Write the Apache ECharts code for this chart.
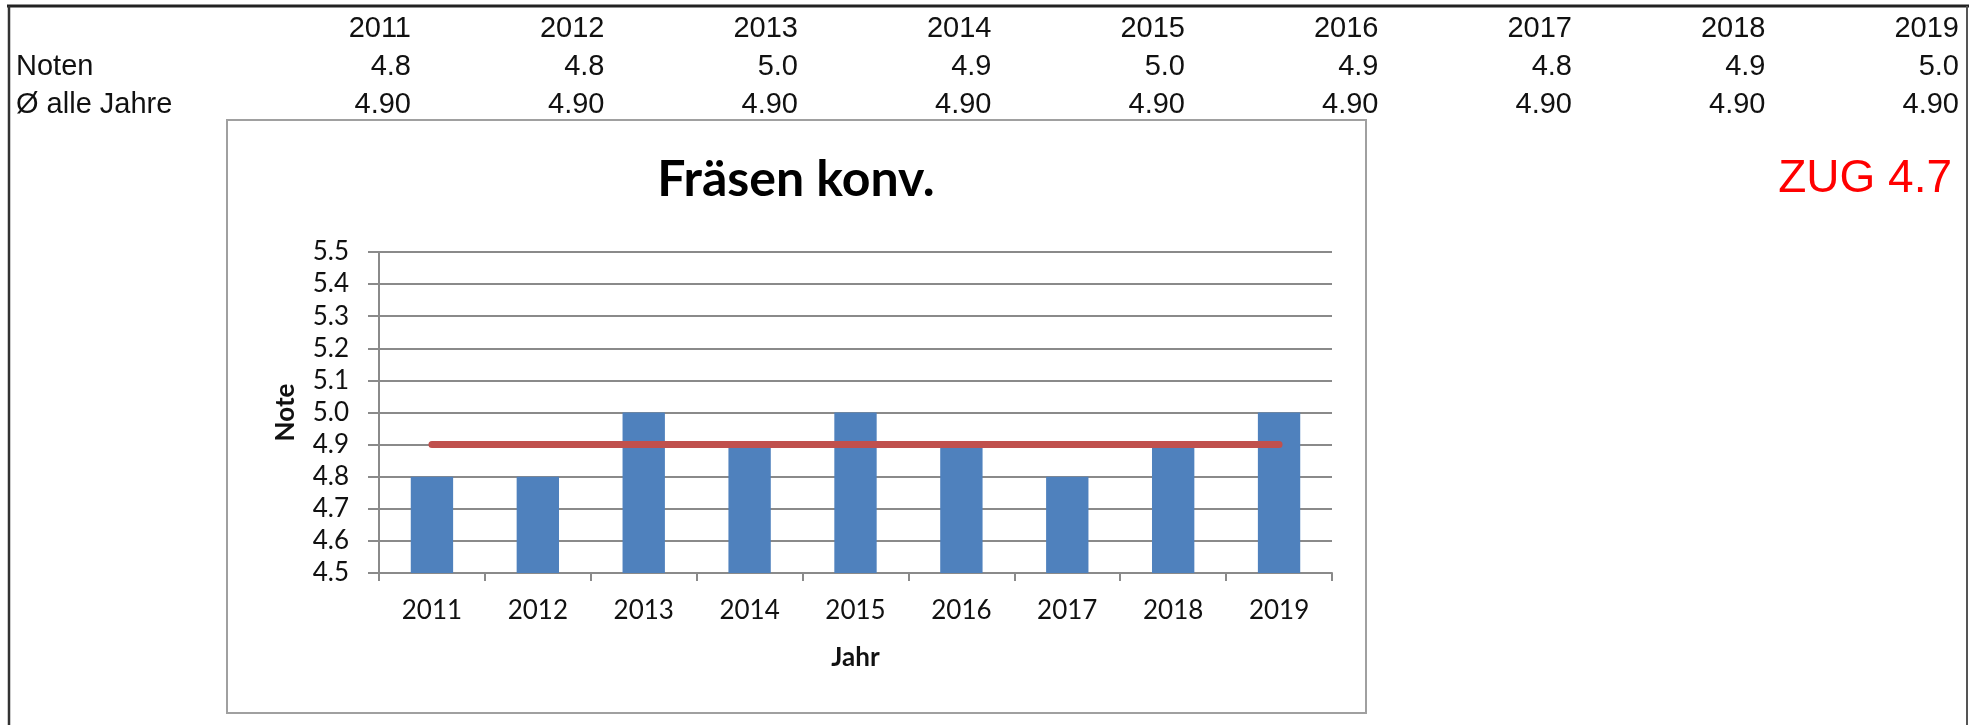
<!DOCTYPE html>
<html>
<head>
<meta charset="utf-8">
<script src="https://cdn.jsdelivr.net/npm/echarts@6/dist/echarts.min.js"></script>
<style>
html, body { margin: 0; padding: 0; background: #fff; }
#main { width: 1985px; height: 725px; }
</style>
</head>
<body>
<div id="main"></div>
<script>
// data
var years = ['2011', '2012', '2013', '2014', '2015', '2016', '2017', '2018', '2019'];
var noten = [4.8, 4.8, 5.0, 4.9, 5.0, 4.9, 4.8, 4.9, 5.0];
var avgAll = [4.90, 4.90, 4.90, 4.90, 4.90, 4.90, 4.90, 4.90, 4.90];
var rowLabels = ['Noten', '\u00d8 alle Jahre'];
var chartTitle = 'Fr\u00e4sen konv.';
var sideNote = 'ZUG 4.7';

var tableFont = '"Liberation Sans", Arial, sans-serif';
var chartFont = 'Lato, "Noto Sans", sans-serif';
var gridColor = '#8a8a8a';

// table above the chart, built from the arrays
var tableTexts = function() {
	var items = [];
	var rowY = [29, 67, 105];
	for (var r = 0; r < rowLabels.length; r++) {
		items.push({
			type : 'text', x : 16, y : rowY[r + 1],
			style : {
				text : rowLabels[r], font : '29px ' + tableFont, fill : '#111',
				textAlign : 'left', textVerticalAlign : 'middle'
			}
		});
	}
	for (var i = 0; i < years.length; i++) {
		var x = 411 + i * 193.5;
		var cells = [years[i], noten[i].toFixed(1), avgAll[i].toFixed(2)];
		for (var j = 0; j < cells.length; j++) {
			items.push({
				type : 'text', x : x, y : rowY[j],
				style : {
					text : cells[j], font : '29px ' + tableFont, fill : '#111',
					textAlign : 'right', textVerticalAlign : 'middle'
				}
			});
		}
	}
	return items;
};

var chart = echarts.init(document.getElementById('main'));

var option = {
	animation : false,
	backgroundColor : '#fff',
	grid : {
		left : 379,
		right : 653,
		top : 252,
		bottom : 152,
		containLabel : false
	},
	xAxis : {
		type : 'category',
		data : years,
		name : 'Jahr',
		nameLocation : 'middle',
		nameGap : 72,
		nameTextStyle : { fontFamily : chartFont, fontWeight : 'bold', fontSize : 26, color : '#111' },
		axisLine : { lineStyle : { color : gridColor, width : 2 } },
		axisTick : { show : true, length : 8, lineStyle : { color : gridColor, width : 2 } },
		axisLabel : { margin : 25, fontFamily : chartFont, fontSize : 26, color : '#111' }
	},
	yAxis : {
		type : 'value',
		min : 4.5,
		max : 5.5,
		interval : 0.1,
		name : 'Note',
		nameLocation : 'middle',
		nameRotate : 90,
		nameGap : 80,
		nameTextStyle : { fontFamily : chartFont, fontWeight : 'bold', fontSize : 26, color : '#111' },
		axisLine : { show : true, lineStyle : { color : gridColor, width : 2 } },
		axisTick : { show : true, length : 11, lineStyle : { color : gridColor, width : 2 } },
		axisLabel : {
			margin : 30, fontFamily : chartFont, fontSize : 26, color : '#111',
			formatter : function(v) { return v.toFixed(1); }
		},
		splitLine : { show : true, lineStyle : { color : gridColor, width : 2 } }
	},
	series : [ {
		name : 'Noten',
		type : 'bar',
		data : noten,
		barWidth : '40%',
		itemStyle : { color : '#4f81bd' },
		z : 2
	}, {
		name : 'Durchschnitt',
		type : 'line',
		data : avgAll,
		symbol : 'none',
		lineStyle : { color : '#c0504d', width : 7, cap : 'round' },
		z : 3
	} ],
	graphic : [
		// outer frame
		{ type : 'line', shape : { x1 : 7, y1 : 6, x2 : 1969, y2 : 6 }, style : { stroke : '#222', lineWidth : 3 } },
		{ type : 'line', shape : { x1 : 9, y1 : 6, x2 : 9, y2 : 725 }, style : { stroke : '#333', lineWidth : 2.5 } },
		{ type : 'line', shape : { x1 : 1967, y1 : 6, x2 : 1967, y2 : 725 }, style : { stroke : '#555', lineWidth : 2 } },
		// chart box
		{ type : 'rect', shape : { x : 227, y : 120, width : 1139, height : 593 }, style : { fill : null, stroke : '#a0a0a0', lineWidth : 2 }, z : -1 },
		{
			type : 'text', x : 796, y : 180,
			style : {
				text : chartTitle, font : 'bold 50px ' + chartFont, fill : '#000',
				textAlign : 'center', textVerticalAlign : 'middle'
			}
		},
		{
			type : 'text', x : 1952, y : 179,
			style : {
				text : sideNote, font : '46px ' + tableFont, fill : '#ff0000',
				textAlign : 'right', textVerticalAlign : 'middle'
			}
		}
	].concat(tableTexts())
};

chart.setOption(option);
</script>
</body>
</html>
